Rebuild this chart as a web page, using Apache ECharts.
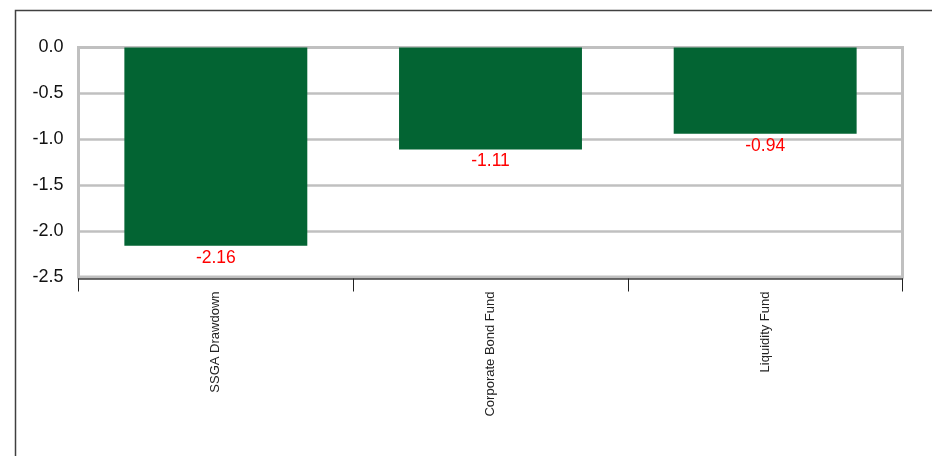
<!DOCTYPE html>
<html>
<head>
<meta charset="utf-8">
<style>
  html, body { margin: 0; padding: 0; background: #ffffff; }
  #chart { width: 932px; height: 456px; }
</style>
<script src="https://cdn.jsdelivr.net/npm/echarts@6/dist/echarts.min.js"></script>
</head>
<body>
<div id="chart"></div>
<script>
// Fund categories and their drawdown values
const categories = ['SSGA Drawdown', 'Corporate Bond Fund', 'Liquidity Fund'];
const values = [-2.16, -1.11, -0.94];

// Value axis range
const yMin = -2.5;
const yMax = 0;
const yStep = 0.5;

const chart = echarts.init(document.getElementById('chart'), null, { renderer: 'canvas' });

const gridGray = '#c0c0c0';
const darkLine = '#404040';

chart.setOption({
  animation: false,
  backgroundColor: '#ffffff',
  graphic: [
    {
      type: 'polyline',
      silent: true,
      shape: { points: [[15.5, 456], [15.5, 10.5], [932, 10.5]] },
      style: { stroke: darkLine, lineWidth: 1.5, fill: null }
    }
  ],
  grid: {
    left: 78.5,
    right: 29.5,
    top: 47.5,
    bottom: 179,
    show: true,
    borderColor: gridGray,
    borderWidth: 3,
    backgroundColor: 'transparent'
  },
  xAxis: {
    type: 'category',
    data: categories,
    position: 'bottom',
    offset: 1.5,
    axisLine: { show: true, onZero: false, lineStyle: { color: darkLine, width: 1.5 } },
    axisTick: { show: true, length: 13, lineStyle: { color: '#222222', width: 1 } },
    axisLabel: {
      rotate: 90,
      margin: 13,
      color: '#222222',
      fontFamily: '"Liberation Sans", Arial, sans-serif',
      fontSize: 13
    },
    splitLine: { show: false }
  },
  yAxis: {
    type: 'value',
    min: yMin,
    max: yMax,
    interval: yStep,
    axisLine: { show: false },
    axisTick: { show: false },
    axisLabel: {
      margin: 15,
      color: '#111111',
      fontFamily: '"Liberation Sans", Arial, sans-serif',
      fontSize: 18,
      formatter: (v) => v.toFixed(1)
    },
    splitLine: { show: true, lineStyle: { color: gridGray, width: 2.5 } }
  },
  series: [
    {
      type: 'bar',
      data: values,
      barCategoryGap: '33.4%',
      itemStyle: { color: '#036433' },
      label: {
        show: true,
        position: 'bottom',
        distance: 3,
        color: '#ff0000',
        fontFamily: '"Liberation Sans", Arial, sans-serif',
        fontSize: 17.5,
        formatter: (p) => p.value.toFixed(2)
      }
    }
  ]
});
</script>
</body>
</html>
